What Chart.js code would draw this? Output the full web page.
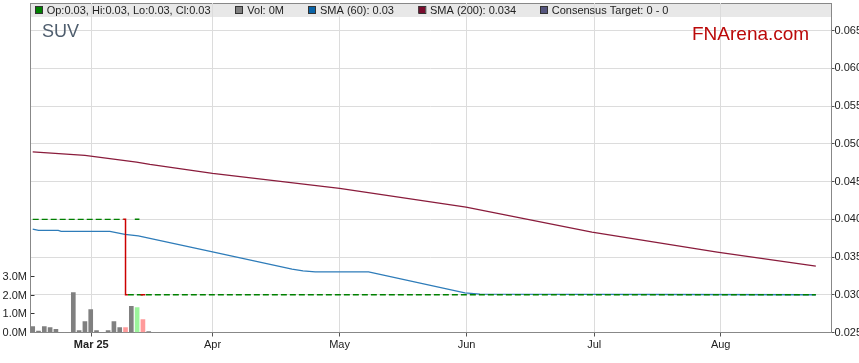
<!DOCTYPE html>
<html>
<head>
<script src="https://cdn.jsdelivr.net/npm/chart.js@4.4.1/dist/chart.umd.min.js"></script>
<style>
  html, body { margin: 0; padding: 0; background: #fff; }
</style>
</head>
<body>
<canvas id="chart-suv" width="859" height="363"></canvas>
<script>
// INPUT DATA (x = trading day, counted from the first volume bar)

const monthTickDays = [10.1, 31, 52.9, 74.8, 96.8, 118.6];
const monthTickLabels = ["Mar 25", "Apr", "May", "Jun", "Jul", "Aug"];
const priceTicks = [0.025, 0.03, 0.035, 0.04, 0.045, 0.05, 0.055, 0.06, 0.065];
const volumeTicks = [0, 1, 2, 3]; // millions

const volumeDays = [0, 1, 2, 3, 4, 5, 6, 7, 8, 9, 10, 11, 12, 13, 14, 15, 16, 17, 18, 19, 20];
const volumeValues = [0.32, 0.08, 0.32, 0.27, 0.17, 0, 0, 2.16, 0.11, 0.59, 1.24, 0.11, 0, 0.11, 0.59, 0.27, 0.27, 1.41, 1.35, 0.70, 0.05];
const volumeMove = ["n", "n", "n", "n", "n", "n", "n", "n", "n", "n", "n", "n", "n", "n", "n", "n", "d", "n", "u", "d", "n"];

const closeDays = [0, 15.6, 16.4, 135];
const closeValues = [0.04, 0.04, 0.03, 0.03];

const ohlcDays = [16, 18, 19];
const ohlcOpen = [0.04, 0.04, 0.03];
const ohlcHigh = [0.04, 0.04, 0.03];
const ohlcLow = [0.03, 0.04, 0.03];
const ohlcClose = [0.03, 0.04, 0.03];
const ohlcUp = [false, true, false];

const sma60Days = [0, 1, 4.4, 4.9, 13.3, 15.9, 18.2, 31, 44.7, 46.6, 48.7, 57.9, 74.5, 77.1, 135];
const sma60Values = [0.0387, 0.03853, 0.03853, 0.0384, 0.0384, 0.038, 0.0378, 0.03569, 0.0334, 0.03317, 0.03304, 0.03304, 0.03025, 0.03008, 0.03];

const sma200Days = [0, 9, 17.9, 20.2, 31, 52.9, 74.7, 96.4, 118, 135];
const sma200Values = [0.04895, 0.04848, 0.04759, 0.04728, 0.04609, 0.0441, 0.04163, 0.0383, 0.03565, 0.0338];

// BUILD DATASETS

const FONT = "'Liberation Sans', Arial, sans-serif";
const moveColors = { n: "#808080", d: "#ff9a9a", u: "#9cf59c" };

function pts(xs, ys) {
  return xs.map(function (x, i) { return { x: x, y: ys[i] }; });
}

const ohlcSets = ohlcDays.map(function (d, i) {
  const w = 0.4;
  return {
    type: "line",
    data: [
      { x: d - w, y: ohlcOpen[i] }, { x: d, y: ohlcOpen[i] },
      { x: d, y: ohlcHigh[i] }, { x: d, y: ohlcLow[i] },
      { x: d, y: ohlcClose[i] }, { x: d + w, y: ohlcClose[i] }
    ],
    borderColor: ohlcUp[i] ? "#008000" : "#cc0000",
    borderWidth: 1.5,
    pointRadius: 0,
    yAxisID: "y",
    order: 1
  };
});

const datasets = [
  {
    type: "bar",
    data: pts(volumeDays, volumeValues),
    backgroundColor: volumeMove.map(function (m) { return moveColors[m]; }),
    barThickness: 4,
    yAxisID: "vol",
    order: 10
  },
  {
    type: "line",
    data: pts(sma200Days, sma200Values),
    borderColor: "#8a1c3c",
    borderWidth: 1.3,
    pointRadius: 0,
    yAxisID: "y",
    order: 5
  },
  {
    type: "line",
    data: pts(sma60Days, sma60Values),
    borderColor: "#2e7cb9",
    borderWidth: 1.3,
    pointRadius: 0,
    yAxisID: "y",
    order: 4
  },
  {
    type: "line",
    data: pts(closeDays, closeValues),
    borderColor: "#008000",
    borderWidth: 1.3,
    borderDash: [6, 3],
    pointRadius: 0,
    segment: {
      borderColor: function (c) { return c.p0DataIndex === 1 ? "rgba(0,0,0,0)" : "#008000"; }
    },
    yAxisID: "y",
    order: 3
  }
].concat(ohlcSets);

// LEGEND BAR AND TITLES

const legendItems = [
  { sq: 35, tx: 46.7, color: "#008000", text: "Op:0.03, Hi:0.03, Lo:0.03, Cl:0.03" },
  { sq: 235, tx: 247.3, color: "#808080", text: "Vol: 0M" },
  { sq: 308, tx: 320, color: "#0a64a8", text: "SMA (60): 0.03" },
  { sq: 418.3, tx: 430, color: "#7a0c2e", text: "SMA (200): 0.034" },
  { sq: 540, tx: 551.7, color: "#55557e", text: "Consensus Target: 0 - 0" }
];

const decorPlugin = {
  id: "decor",
  beforeDraw: function (chart) {
    const a = chart.chartArea;
    const ctx = chart.ctx;
    ctx.save();
    ctx.fillStyle = "#e8e8e8";
    ctx.fillRect(a.left, a.top, a.right - a.left, 14);
    ctx.strokeStyle = "#888";
    ctx.lineWidth = 1;
    ctx.beginPath();
    ctx.moveTo(a.left, a.top + 0.5);
    ctx.lineTo(a.right, a.top + 0.5);
    ctx.stroke();
    ctx.restore();
  },
  afterDraw: function (chart) {
    const ctx = chart.ctx;
    ctx.save();
    ctx.font = "11px " + FONT;
    ctx.textBaseline = "alphabetic";
    legendItems.forEach(function (it) {
      ctx.fillStyle = it.color;
      ctx.fillRect(it.sq, 6, 7, 7);
      ctx.strokeStyle = "#333";
      ctx.lineWidth = 1;
      ctx.strokeRect(it.sq + 0.5, 6.5, 7, 7);
      ctx.fillStyle = "#222";
      ctx.fillText(it.text, it.tx, 14);
    });
    ctx.font = "18px " + FONT;
    ctx.fillStyle = "#4f5e6e";
    ctx.fillText("SUV", 42, 37);
    ctx.fillStyle = "#bb0a0a";
    ctx.font = "19px " + FONT;
    ctx.fillText("FNArena.com", 692, 40);
    ctx.restore();
  }
};

function noPad(s) {
  s.paddingTop = 0;
  s.paddingBottom = 0;
  s.paddingLeft = 0;
  s.paddingRight = 0;
}

// CHART

const chart = new Chart(document.getElementById("chart-suv").getContext("2d"), {
  data: { datasets: datasets },
  plugins: [decorPlugin],
  options: {
    responsive: false,
    animation: false,
    devicePixelRatio: 1,
    layout: { padding: { top: 3, left: 0, right: 0, bottom: 0 } },
    plugins: { legend: { display: false }, tooltip: { enabled: false } },
    scales: {
      x: {
        type: "linear",
        offset: false,
        min: -0.38,
        max: 137.7,
        afterBuildTicks: function (axis) {
          axis.ticks = monthTickDays.map(function (v) { return { value: v }; });
        },
        afterFit: function (s) { s.height = 30.5; noPad(s); },
        ticks: {
          autoSkip: false,
          maxRotation: 0,
          padding: 2,
          color: "#222",
          font: function (c) {
            return { family: FONT, size: 11, weight: c.index === 0 ? "bold" : "normal" };
          },
          callback: function (v, i) { return monthTickLabels[i]; }
        },
        grid: { offset: false, color: "#dcdcdc", tickLength: 4, tickColor: "#555" },
        border: { color: "#888" }
      },
      y: {
        position: "right",
        min: 0.025,
        max: 0.06867,
        afterBuildTicks: function (axis) {
          axis.ticks = priceTicks.map(function (v) { return { value: v }; });
        },
        afterFit: function (s) { s.width = 27.5; noPad(s); },
        ticks: {
          padding: 0,
          color: "#222",
          font: { family: FONT, size: 11 },
          callback: function (v) { return v.toFixed(3); }
        },
        grid: { color: "#dcdcdc", tickLength: 3, tickColor: "#555" },
        border: { color: "#888" }
      },
      vol: {
        position: "left",
        min: 0,
        max: 17.8,
        afterBuildTicks: function (axis) {
          axis.ticks = volumeTicks.map(function (v) { return { value: v }; });
        },
        afterFit: function (s) { s.width = 30.5; noPad(s); },
        ticks: {
          padding: 7.5,
          color: "#222",
          font: { family: FONT, size: 11 },
          callback: function (v) { return v.toFixed(1) + "M"; }
        },
        grid: { drawOnChartArea: false, tickLength: -4, tickColor: "#333" },
        border: { color: "#888" }
      }
    }
  }
});
</script>
</body>
</html>
